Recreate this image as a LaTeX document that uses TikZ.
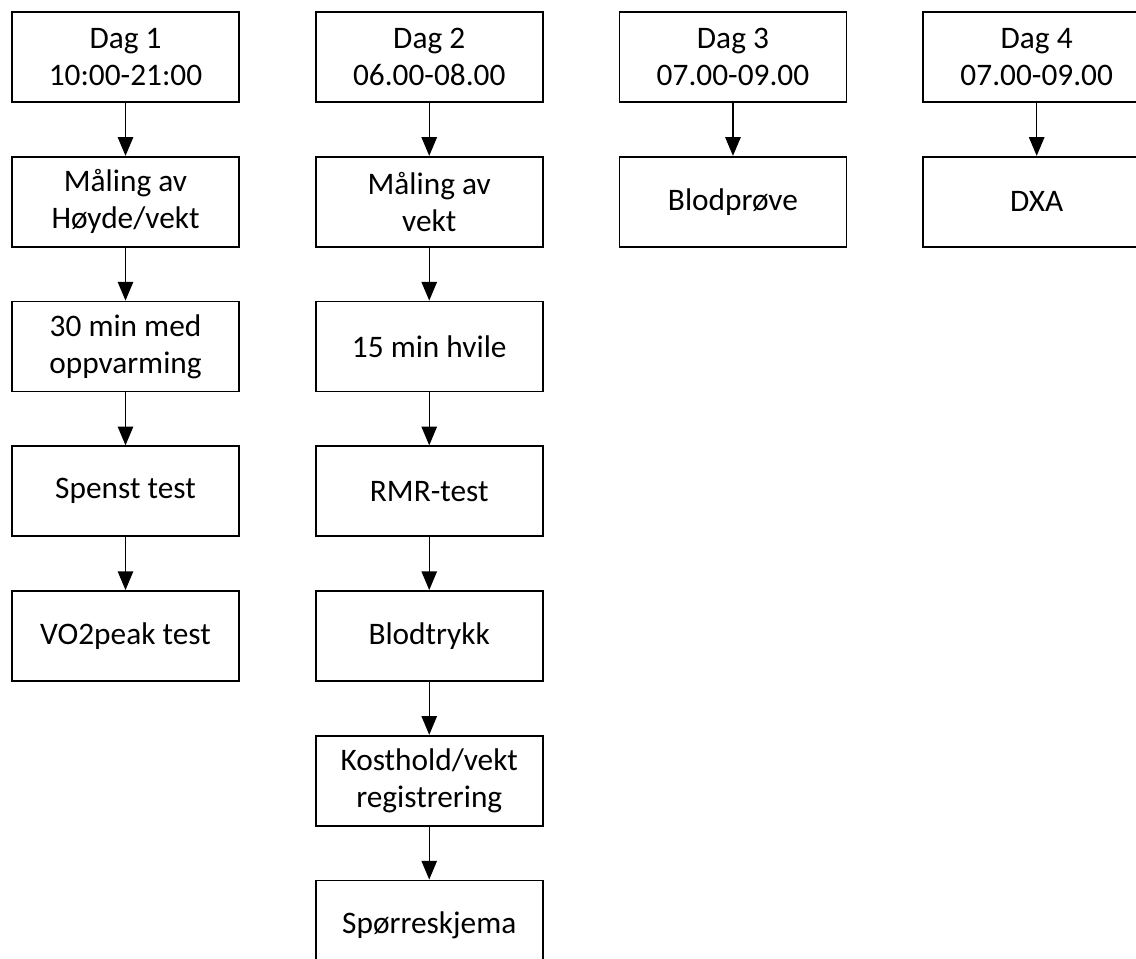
\documentclass[tikz,border=0pt]{standalone}
\usepackage{fontspec}
\setmainfont{Carlito}
\usetikzlibrary{positioning, arrows.meta}

\begin{document}
\begin{tikzpicture}[x=0.75pt, y=-0.75pt,
    node distance=39.75pt and 56.25pt,
    box/.style={draw, line width=1.3pt, minimum width=170.25pt, minimum height=67.5pt,
      align=center, inner sep=2pt, font=\fontsize{23.5}{27.8}\selectfont},
    arr/.style={-{Triangle[length=14pt,width=11.5pt]}, line width=1.1pt}]
        \useasboundingbox (0,0) rectangle (1136,958);
        % Dag 1
        \node[box] (dag1) at (125.5,57) {Dag 1\\10:00-21:00};
        \node[box, below=of dag1] (hoyde) {Måling av\\Høyde/vekt};
        \node[box, below=of hoyde] (oppv) {30 min med\\oppvarming};
        \node[box, below=of oppv] (spenst) {Spenst test};
        \node[box, below=of spenst] (vo2) {VO2peak test};
        % Dag 2
        \node[box, right=of dag1] (dag2) {Dag 2\\06.00-08.00};
        \node[box, below=of dag2] (vekt) {Måling av\\vekt};
        \node[box, below=of vekt] (hvile) {15 min hvile};
        \node[box, below=of hvile] (rmr) {RMR-test};
        \node[box, below=of rmr] (btrykk) {Blodtrykk};
        \node[box, below=of btrykk] (kost) {Kosthold/vekt\\registrering};
        \node[box, below=of kost] (sporr) {Spørreskjema};
        % Dag 3 og 4
        \node[box, right=of dag2] (dag3) {Dag 3\\07.00-09.00};
        \node[box, below=of dag3] (blod) {Blodprøve};
        \node[box, right=of dag3] (dag4) {Dag 4\\07.00-09.00};
        \node[box, below=of dag4] (dxa) {DXA};

        \draw[arr] (dag1) -- (hoyde);
        \draw[arr] (hoyde) -- (oppv);
        \draw[arr] (oppv) -- (spenst);
        \draw[arr] (spenst) -- (vo2);
        \draw[arr] (dag2) -- (vekt);
        \draw[arr] (vekt) -- (hvile);
        \draw[arr] (hvile) -- (rmr);
        \draw[arr] (rmr) -- (btrykk);
        \draw[arr] (btrykk) -- (kost);
        \draw[arr] (kost) -- (sporr);
        \draw[arr] (dag3) -- (blod);
        \draw[arr] (dag4) -- (dxa);
      \end{tikzpicture}
\end{document}
